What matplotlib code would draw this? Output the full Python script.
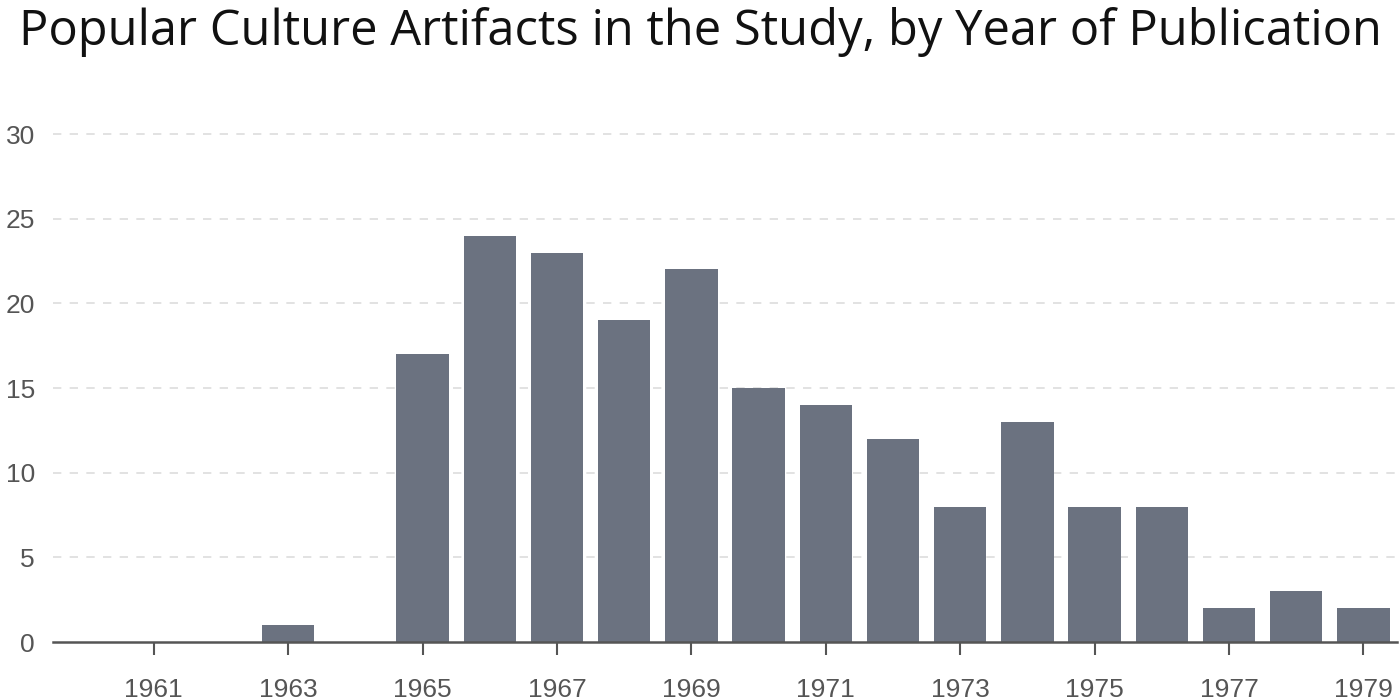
import matplotlib
matplotlib.use("Agg")
import matplotlib.pyplot as plt
import numpy as np

years = list(range(1960, 1980))
counts = [0, 0, 0, 1, 0, 17, 24, 23, 19, 22, 15, 14, 12, 8, 13, 8, 8, 2, 3, 2]
tick_years = [1961, 1963, 1965, 1967, 1969, 1971, 1973, 1975, 1977, 1979]
y_ticks = [0, 5, 10, 15, 20, 25, 30]
title = "Popular Culture Artifacts in the Study, by Year of Publication"

bar_color = "#6b7280"
text_color = "#555555"

fig = plt.figure(figsize=(14, 7), dpi=100)
ax = fig.add_axes([53/1400, 1-642/700, (1397-53)/1400, (642-134)/700])

x = np.arange(len(years))
ax.bar(x, counts, width=0.78, color=bar_color, zorder=3)

ax.set_xlim(-0.5, len(years) - 0.5)
ax.set_ylim(0, 30)

ax.set_yticks(y_ticks)
ax.set_yticklabels([str(v) for v in y_ticks], fontsize=19, color=text_color,
                   family=["Liberation Sans", "DejaVu Sans"])
ax.tick_params(axis="y", length=0, pad=13)

tpos = [years.index(y) for y in tick_years]
ax.set_xticks(tpos)
ax.set_xticklabels([str(y) for y in tick_years], fontsize=19, color=text_color,
                   family=["Liberation Sans", "DejaVu Sans"])
ax.tick_params(axis="x", length=9, width=1.5, color=text_color, pad=17)

for v in y_ticks[1:]:
    ax.axhline(v, color="#dddddd", linewidth=1.2, linestyle=(0, (5, 5)), zorder=1, clip_on=False)

for s in ["top", "right", "left"]:
    ax.spines[s].set_visible(False)
ax.spines["bottom"].set_color(text_color)
ax.spines["bottom"].set_linewidth(1.8)
ax.spines["bottom"].set_zorder(4)

fig.text(0.5, 1 - 45/700, title, ha="center", va="baseline", fontsize=35.2,
         family=["Open Sans", "DejaVu Sans"], color="#111111")

fig.savefig("out.png", dpi=100)
